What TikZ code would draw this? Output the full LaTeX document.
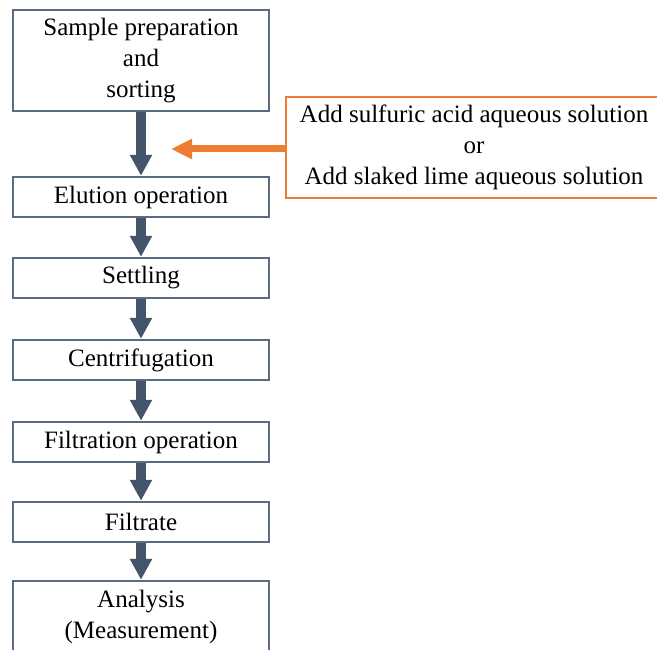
\documentclass[tikz,border=0pt]{standalone}
\usepackage{fontspec}
\setmainfont{Liberation Serif}
\usetikzlibrary{arrows.meta}

\definecolor{slate}{HTML}{44546A}
\definecolor{boxline}{HTML}{5A6B82}
\definecolor{accent}{HTML}{ED7D31}

\begin{document}
\begin{tikzpicture}[x=1pt, y=-1pt,
    stepbox/.style={draw=boxline, line width=1.2pt, fill=white,
        minimum width=256pt, minimum height=40pt, inner sep=0pt,
        align=center, font=\fontsize{25}{31}\selectfont},
    notebox/.style={draw=accent, line width=2.6pt, fill=white,
        minimum width=376pt, minimum height=101pt, inner sep=0pt,
        align=center, font=\fontsize{25}{31}\selectfont},
    flow/.style={slate, line width=10pt,
        -{Triangle[width=21pt, length=21pt]}, shorten >=0.6pt},
    feed/.style={accent, line width=7pt,
        -{Triangle[width=19pt, length=21pt]}}
]
    \useasboundingbox (0,0) rectangle (657,650);

    \node[stepbox, minimum height=101pt] (prep) at (141,60.5) {Sample preparation\\and\\sorting};
    \node[stepbox] (elution) at (141,197) {Elution operation};
    \node[stepbox] (settling) at (141,278) {Settling};
    \node[stepbox] (centri) at (141,360) {Centrifugation};
    \node[stepbox] (filtration) at (141,442) {Filtration operation};
    \node[stepbox] (filtrate) at (141,522) {Filtrate};
    \node[stepbox, minimum height=72pt] (analysis) at (141,617) {Analysis\\(Measurement)};

    \node[notebox] (reagent) at (474,147.5) {Add sulfuric acid aqueous solution\\or\\Add slaked lime aqueous solution};
    \coordinate (inlet) at (171,149);

    \draw[flow] (prep) -- (elution);
    \draw[flow] (elution) -- (settling);
    \draw[flow] (settling) -- (centri);
    \draw[flow] (centri) -- (filtration);
    \draw[flow] (filtration) -- (filtrate);
    \draw[flow] (filtrate) -- (analysis);
    \draw[feed] (reagent.west |- inlet) -- (inlet);
\end{tikzpicture}
\end{document}
